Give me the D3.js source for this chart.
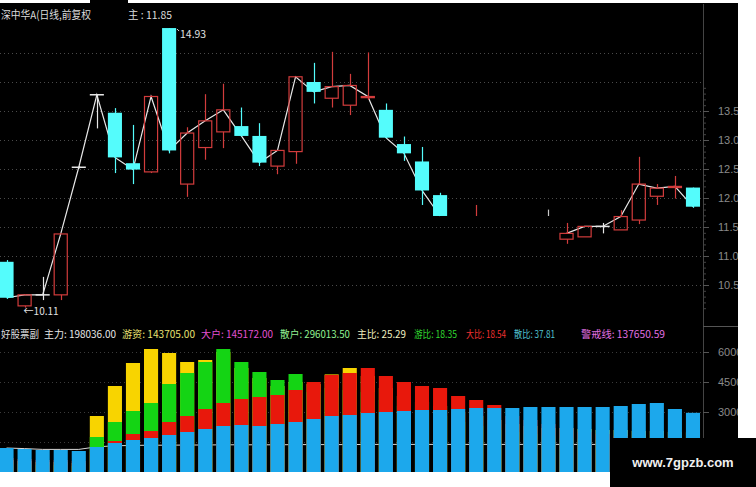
<!DOCTYPE html>
<html><head><meta charset="utf-8">
<script src="https://cdn.jsdelivr.net/npm/d3@7"></script>
<style>body{margin:0;background:#000;}svg{display:block}</style>
</head><body><svg id="c" width="756" height="487"></svg>
<script>
// ---------- DATA ----------
const opens  = [10.90,10.14,10.33,10.33,12.53,13.78,13.47,12.60,12.45,14.93,12.24,12.87,13.14,13.24,13.07,12.55,12.80,14.00,13.72,13.60,13.73,13.52,12.93,12.63,12.05,null,null,null,null,null,null,11.29,11.33,11.51,11.45,11.62,12.03,12.18,12.18];
const closes = [10.28,10.33,10.33,11.38,12.53,13.78,12.70,12.49,13.75,12.82,13.12,13.33,13.52,13.07,12.61,12.82,14.09,13.83,13.92,13.94,13.75,13.04,12.77,12.13,11.69,null,null,null,null,null,null,11.39,11.51,11.51,11.68,12.24,12.17,12.20,11.85];
const highs  = [10.93,10.34,10.64,11.38,12.55,13.79,13.55,13.26,13.77,14.93,13.22,13.79,13.97,13.56,13.29,12.82,14.09,14.33,14.52,14.14,14.51,13.63,13.06,12.88,12.09,null,11.88,null,null,null,11.80,11.57,11.51,11.57,11.79,12.71,12.24,12.38,12.18];
const lows   = [10.26,10.11,10.24,10.24,12.51,13.20,12.43,12.24,12.43,12.77,12.02,12.66,12.86,13.06,12.55,12.41,12.59,13.63,13.56,13.43,13.69,13.03,12.64,11.88,11.69,null,11.69,null,null,null,11.69,11.21,11.33,11.39,11.45,11.55,11.88,11.99,11.83];
const neutralWicks = [30];
const priceTicks = [10.5,11.0,11.5,12.0,12.5,13.0,13.5];
const gridPrices = [10.5,11.0,11.5,12.0,12.5,13.0,13.5,14.0,14.5];

// indicator series (drawn overlapping from zero)
const zhuli = [60000,55000,50000,50000,45000,280000,430000,545000,615000,595000,550000,560000,600000,520000,470000,430000,450000,440000,488000,520000,480000,420000,380000,350000,330000,300000,280000,260000,240000,230000,220000,220000,215000,210000,210000,205000,205000,200000,198036];
const youzi = [40000,40000,35000,35000,30000,175000,250000,305000,345000,440000,495000,550000,615000,550000,500000,460000,490000,400000,420000,410000,400000,360000,330000,300000,280000,250000,230000,210000,200000,190000,180000,170000,165000,160000,155000,150000,150000,145000,143705];
const dahu  = [70000,65000,60000,60000,55000,100000,155000,190000,205000,250000,280000,315000,345000,365000,375000,385000,410000,450000,485000,495000,520000,480000,450000,430000,420000,380000,360000,335000,280000,260000,240000,220000,200000,190000,180000,170000,165000,150000,145172];
const sanhu = [120000,115000,110000,110000,105000,125000,145000,160000,170000,185000,200000,215000,230000,235000,230000,240000,250000,265000,280000,285000,295000,300000,305000,310000,310000,315000,320000,320000,320000,325000,325000,325000,325000,325000,330000,340000,345000,315000,296013.5];
const warnLine = [120000,117000,113000,113000,113000,126000,131000,133000,134000,134000,135000,135000,136000,136000,136000,136000,137000,137000,137000,137000,138000,138000,138000,138000,138000,138000,138000,138000,138000,138000,138000,138000,138000,138000,138000,138000,138000,138000,137650.59];
const volTicks = [150000,300000,450000,600000];

const titleText = "深中华A(日线,前复权";
const mainLabel = "主 : 11.85";
const highLabel = "14.93";
const lowLabel = "←10.11";
const watermark = "www.7gpzb.com";

// ---------- SETUP ----------
const W=756,H=487,N=opens.length;
const svg=d3.select('#c');
const FONT='"Noto Sans CJK SC","Noto Sans",sans-serif';
svg.append('rect').attr('width',W).attr('height',H).attr('fill','#000');

const x=d3.scaleBand().domain(d3.range(N)).range([-2.5,702]).paddingInner(0.22).paddingOuter(0.11);
const yP=d3.scaleLinear().domain([10,15]).range([314,24]);
const yV=d3.scaleLinear().domain([0,600000]).range([472,352]);
const cx=i=>x(i)+x.bandwidth()/2;
const AX=703;

const RED='#d23c3c', CYAN='#54fcfc', DOJI='#e6e6e6';

// grid
svg.append('g').selectAll('line').data(gridPrices).join('line')
  .attr('x1',0).attr('x2',AX).attr('y1',d=>Math.round(yP(d))+0.5).attr('y2',d=>Math.round(yP(d))+0.5)
  .attr('stroke','#4a4a4a').attr('stroke-dasharray','1,3');
svg.append('g').selectAll('line').data(volTicks).join('line')
  .attr('x1',0).attr('x2',AX).attr('y1',d=>Math.round(yV(d))+0.5).attr('y2',d=>Math.round(yV(d))+0.5)
  .attr('stroke','#3a3a3a').attr('stroke-dasharray','1,3');

// close line
const idx=d3.range(N);
svg.append('path').datum(idx)
  .attr('d',d3.line().defined(i=>closes[i]!=null).x(cx).y(i=>yP(closes[i])))
  .attr('fill','none').attr('stroke','#e8e8e8').attr('stroke-width',1.2);

// candles
const cg=svg.append('g');
idx.forEach(i=>{
  const h=highs[i], l=lows[i], o=opens[i], c=closes[i];
  if(h==null) return;
  const xc=Math.round(cx(i))+0.5, bx=x(i), bw=x.bandwidth();
  if(o==null){
    cg.append('line').attr('x1',xc).attr('x2',xc).attr('y1',yP(h)).attr('y2',yP(l))
      .attr('stroke',neutralWicks.includes(i)?'#c8c8c8':RED).attr('stroke-width',1.2);
    return;
  }
  const top=Math.max(o,c), bot=Math.min(o,c);
  if(c===o){
    cg.append('line').attr('x1',xc).attr('x2',xc).attr('y1',yP(h)).attr('y2',yP(l)).attr('stroke',DOJI).attr('stroke-width',1.2);
    cg.append('line').attr('x1',bx).attr('x2',bx+bw).attr('y1',yP(c)).attr('y2',yP(c)).attr('stroke',DOJI).attr('stroke-width',1.5);
  } else if(c>o){
    cg.append('line').attr('x1',xc).attr('x2',xc).attr('y1',yP(h)).attr('y2',yP(top)).attr('stroke',RED).attr('stroke-width',1.2);
    cg.append('line').attr('x1',xc).attr('x2',xc).attr('y1',yP(bot)).attr('y2',yP(l)).attr('stroke',RED).attr('stroke-width',1.2);
    cg.append('rect').attr('x',bx+0.5).attr('y',yP(top)).attr('width',bw-1).attr('height',Math.max(1,yP(bot)-yP(top)))
      .attr('fill','none').attr('stroke',RED).attr('stroke-width',1.2);
  } else {
    cg.append('line').attr('x1',xc).attr('x2',xc).attr('y1',yP(h)).attr('y2',yP(l)).attr('stroke',CYAN).attr('stroke-width',1.2);
    cg.append('rect').attr('x',bx).attr('y',yP(top)).attr('width',bw).attr('height',Math.max(1,yP(bot)-yP(top))).attr('fill',CYAN);
  }
});

// high/low labels
const hiIdx=d3.maxIndex(highs), loIdx=d3.minIndex(lows);
svg.append('line').attr('x1',cx(hiIdx)+8).attr('y1',yP(highs[hiIdx])+1).attr('x2',cx(hiIdx)+10).attr('y2',yP(highs[hiIdx])+3).attr('stroke','#ddd');
svg.append('text').attr('x',cx(hiIdx)+11).attr('y',yP(highs[hiIdx])+10).text(highLabel)
  .attr('fill','#e0e0e0').attr('font-family',FONT).attr('font-size',11).attr('textLength',26).attr('lengthAdjust','spacingAndGlyphs');
svg.append('text').attr('x',cx(loIdx)-1).attr('y',yP(lows[loIdx])+7).text(lowLabel)
  .attr('fill','#e0e0e0').attr('font-family',FONT).attr('font-size',11).attr('textLength',35).attr('lengthAdjust','spacingAndGlyphs');

// volume indicator
svg.append('path').datum(idx)
  .attr('d',d3.line().x(cx).y(i=>yV(warnLine[i])))
  .attr('fill','none').attr('stroke','#d8d8d8').attr('stroke-width',1);
const series=[[zhuli,'#f8d400'],[youzi,'#14d414'],[dahu,'#e8180c'],[sanhu,'#1ca8ec']];
series.forEach(([arr,col])=>{
  svg.append('g').selectAll('rect').data(arr).join('rect')
    .attr('x',(d,i)=>x(i)).attr('width',x.bandwidth())
    .attr('y',d=>yV(d)).attr('height',d=>yV(0)-yV(d)).attr('fill',col);
});

// axes
svg.append('line').attr('x1',AX+0.5).attr('x2',AX+0.5).attr('y1',4).attr('y2',472).attr('stroke','#444');
const minor=d3.range(10.1,14.0,0.1);
svg.append('g').attr('transform',`translate(${AX},0)`)
  .call(d3.axisRight(yP).tickValues(minor).tickSize(3).tickFormat(''))
  .call(g=>{g.select('.domain').remove();g.selectAll('line').attr('stroke','#444');});
svg.append('g').attr('transform',`translate(${AX},0)`)
  .call(d3.axisRight(yP).tickValues(priceTicks).tickSize(6).tickPadding(9).tickFormat(d3.format('.2f')))
  .call(g=>{g.select('.domain').remove();g.selectAll('line').attr('stroke','#555');
    g.selectAll('text').attr('fill','#8a8a8a').attr('font-size',11).attr('font-family','"Liberation Sans",sans-serif');});
svg.append('g').attr('transform',`translate(${AX},0)`)
  .call(d3.axisRight(yV).tickValues(volTicks).tickSize(6).tickPadding(9).tickFormat(d=>d3.format('d')(d/10)))
  .call(g=>{g.select('.domain').remove();g.selectAll('line').attr('stroke','#555');
    g.selectAll('text').attr('fill','#8a8a8a').attr('font-size',11).attr('font-family','"Liberation Sans",sans-serif');});
svg.append('line').attr('x1',AX).attr('x2',738).attr('y1',326.5).attr('y2',326.5).attr('stroke','#555');

// header texts
const txt=(s,x0,x1,y,col,fs)=>svg.append('text').attr('x',x0).attr('y',y).text(s).attr('fill',col)
  .attr('font-family',FONT).attr('font-size',fs||12).attr('textLength',x1-x0).attr('lengthAdjust','spacingAndGlyphs');
txt(titleText,1,91,19,'#dcdcdc',11);
txt(mainLabel,128,172,19,'#dcdcdc',11);

// indicator legend
const total=zhuli[N-1]+youzi[N-1]+dahu[N-1]+sanhu[N-1];
const f2=d3.format('.2f');
const legend=[
  ['好股票副',1,39,'#dcdcdc'],
  ['主力: '+f2(zhuli[N-1]),44,116,'#e6e6e6'],
  ['游资: '+f2(youzi[N-1]),122,195,'#e8e070'],
  ['大户: '+f2(dahu[N-1]),201,273,'#e050d0'],
  ['散户: '+f2(sanhu[N-1]),280,350,'#90f090'],
  ['主比: '+f2(zhuli[N-1]/total*100),357,406,'#f0f0c0'],
  ['游比: '+f2(youzi[N-1]/total*100),414,457,'#30d830'],
  ['大比: '+f2(dahu[N-1]/total*100),466,506,'#f03030'],
  ['散比: '+f2(sanhu[N-1]/total*100),514,555,'#50c0d0'],
  ['警戒线: '+f2(warnLine[N-1]),581,665,'#e070e0']
];
legend.forEach(([s,a,b,c])=>txt(s,a,b,338,c,10.5));

// borders (photo frame)
svg.append('rect').attr('x',0).attr('y',0).attr('width',90).attr('height',3).attr('fill','#fff');
svg.append('rect').attr('x',128).attr('y',0).attr('width',W-128).attr('height',3).attr('fill','#fff');
svg.append('rect').attr('x',738).attr('y',0).attr('width',18).attr('height',438).attr('fill','#fff');
svg.append('rect').attr('x',0).attr('y',472).attr('width',610).attr('height',15).attr('fill','#fff');
svg.append('rect').attr('x',610).attr('y',438).attr('width',146).attr('height',49).attr('fill','#000');
svg.append('text').attr('x',683).attr('y',467).attr('text-anchor','middle').text(watermark)
  .attr('fill','#f0f0f0').attr('font-family','"Liberation Sans",sans-serif').attr('font-weight','bold').attr('font-size',13);
</script></body></html>
